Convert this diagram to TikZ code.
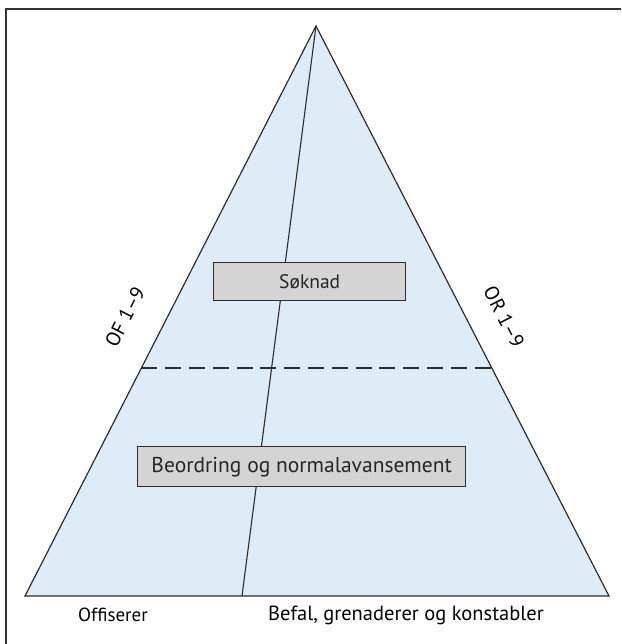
\documentclass[tikz,border=0pt]{standalone}
\usepackage{fontspec}
\setmainfont{PT Sans}
\usetikzlibrary{calc}
\definecolor{pyrfill}{RGB}{222,236,248}
\definecolor{boxfill}{RGB}{212,212,212}
\definecolor{edge}{RGB}{45,45,45}
\begin{document}
\begin{tikzpicture}[x=1pt,y=-1pt,
  labelbox/.style={draw=edge, line width=1.4pt, fill=boxfill, anchor=north west, inner sep=0pt, text=black!85},
  sidelabel/.style={font=\fontsize{20}{24}\selectfont, inner sep=0pt},
  baselabel/.style={inner sep=0pt}]
\useasboundingbox (0,0) rectangle (621,644);
% frame
\draw[line width=1.8pt, black!80] (621,9) -- (6,9) -- (6,644);
% pyramid
\coordinate (apex) at (316,26);
\coordinate (bl) at (25,596);
\coordinate (br) at (609,596);
\coordinate (bmid) at (242,596);
\fill[pyrfill] (apex) -- (bl) -- (br) -- cycle;
\draw[edge, line width=1.2pt, line join=miter] (apex) -- (bl) -- (br) -- cycle;
\draw[edge, line width=1.1pt] (apex) -- (bmid);
% dashed line
\coordinate (dl) at ($(apex)!{(368-26)/570}!(bl)$);
\coordinate (dr) at ($(apex)!{(368-26)/570}!(br)$);
\draw[edge, line width=1.1pt, dash pattern=on 16pt off 7.8pt] (dl) -- (dr);
% boxes
\node[labelbox, minimum width=192pt, minimum height=38pt, font=\fontsize{19.5}{22}\selectfont] (sok) at (213,262) {Søknad};
\node[labelbox, minimum width=328pt, minimum height=40pt, font=\fontsize{21.5}{24}\selectfont] (beo) at (137,446) {Beordring og normalavansement};
% side labels
\node[sidelabel, rotate=63] (of) at (125,317) {OF 1–9};
\node[sidelabel, rotate=-63] (or) at (504,317) {OR 1–9};
% base labels
\node[baselabel, font=\fontsize{19}{22}\selectfont] (off) at (113,615) {Offiserer};
\node[baselabel, font=\fontsize{20.5}{24}\selectfont] (bef) at (406,615) {Befal, grenaderer og konstabler};
\end{tikzpicture}
\end{document}
